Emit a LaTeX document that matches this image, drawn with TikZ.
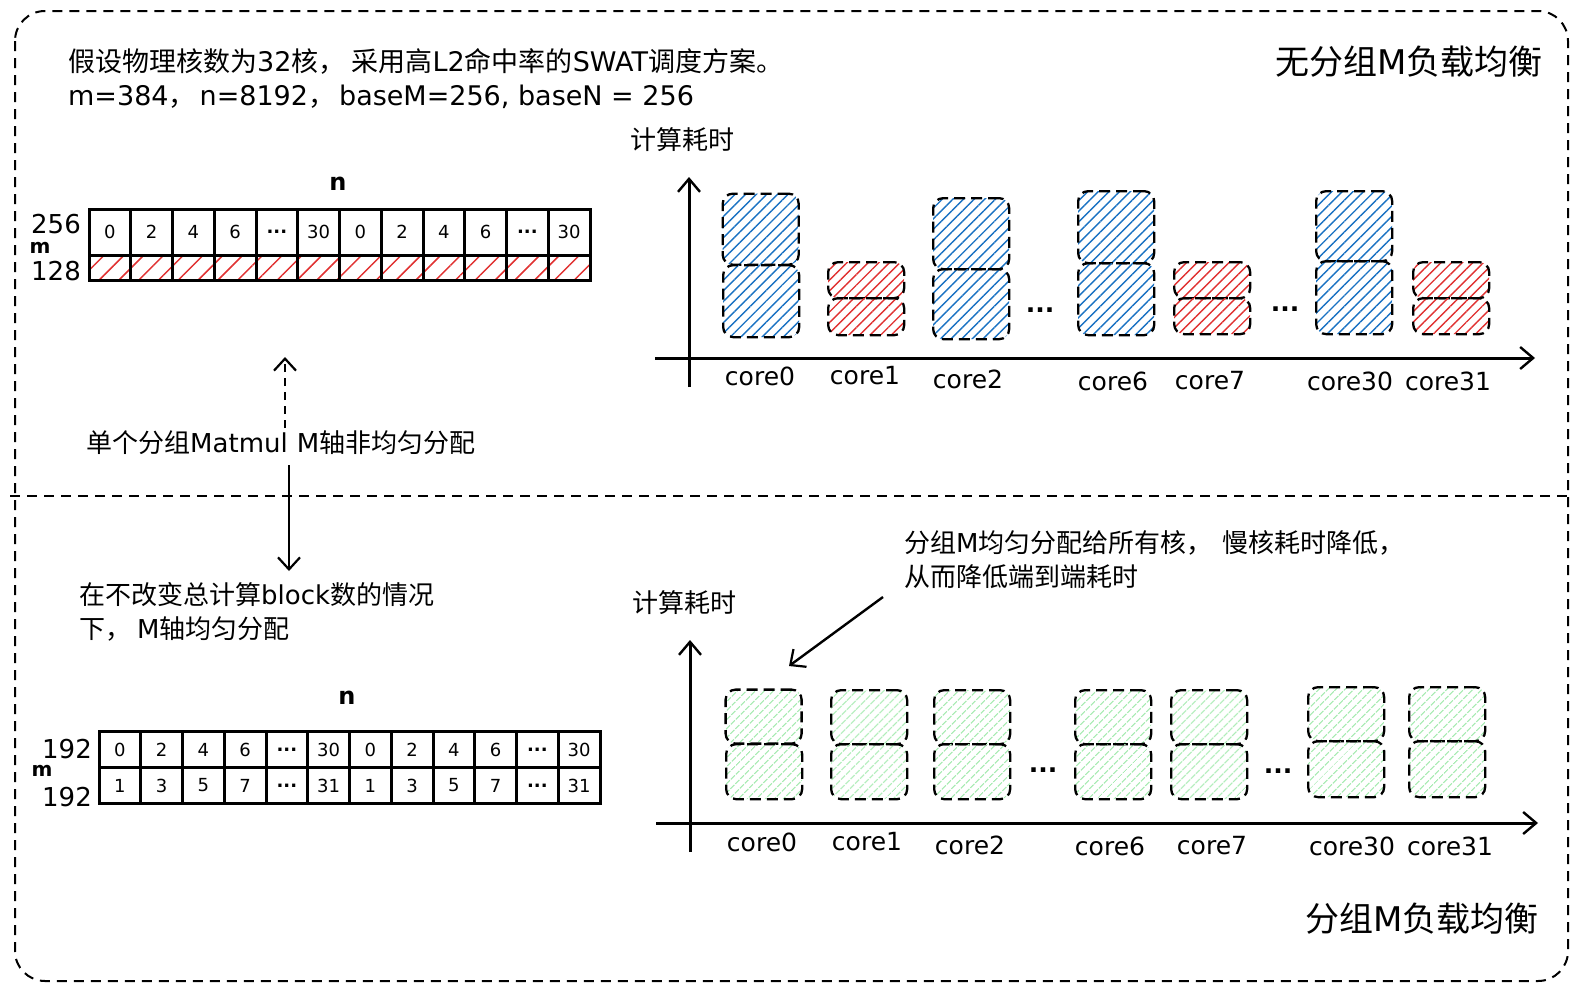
\documentclass[tikz,border=0pt]{standalone}
\usepackage{fontspec}
\setmainfont{Noto Sans CJK SC}
\newfontfamily\lat{DejaVu Sans}
\usetikzlibrary{patterns.meta,arrows.meta}
\definecolor{hblue}{HTML}{1971C2}
\definecolor{hred}{HTML}{E03131}
\definecolor{hgreen}{HTML}{A9EBB3}
\newcommand{\ellip}{\textbf{...}}
\begin{document}
\begin{tikzpicture}[x=1pt,y=-1pt,
  txt/.style={font=\fontsize{26}{34}\selectfont, inner sep=0, align=left},
  ttl/.style={font=\fontsize{34}{38}\selectfont, inner sep=0},
  num/.style={font=\lat\fontsize{26}{30}\selectfont, inner sep=0},
  celltxt/.style={font=\lat\fontsize{18}{22}\selectfont},
  cell/.style={draw, line width=3pt, minimum width=41.75pt, inner sep=0, celltxt},
  redcell/.style={cell, pattern={Lines[angle=45,distance=14pt,line width=1.5pt]}, pattern color=hred},
  lbl/.style={font=\lat\fontsize{25}{30}\selectfont, inner sep=0},
  frame/.style={draw, line width=2pt, dash pattern=on 10pt off 7pt, rounded corners=30pt},
  axis/.style={draw, line width=3pt, -{Straight Barb[length=13pt,width=22pt,line width=2.4pt]}},
  barbox/.style={draw, line width=2.3pt, dash pattern=on 11pt off 6pt, rounded corners=10pt,
     inner sep=0, anchor=north west, minimum width=76pt},
  bluebar/.style={barbox, pattern={Lines[angle=45,distance=7.5pt,line width=1.4pt]}, pattern color=hblue},
  redbar/.style={barbox, pattern={Lines[angle=45,distance=7.5pt,line width=1.4pt]}, pattern color=hred},
  greenbar/.style={barbox, pattern={Lines[angle=45,distance=6.5pt,line width=1.2pt]}, pattern color=hgreen},
  arr/.style={line width=2.4pt, -{Straight Barb[length=12pt,width=22pt,line width=2.2pt]}}
]
\useasboundingbox (0,0) rectangle (1579,993);

% frame and divider
\draw[frame] (15,11) rectangle (1568,981);
\coordinate (divL) at (10,496);
\coordinate (divR) at (1568,496);
\draw[line width=2pt, dash pattern=on 10pt off 7pt] (divL) -- (divR);

% header texts
\node[txt, font=\fontsize{27}{34}\selectfont, anchor=west] (intro1) at (68,61) {假设物理核数为{\lat 32}核，\hspace{6pt}采用高{\lat L2}命中率的{\lat SWAT}调度方案。};
\node[txt, font=\fontsize{27}{34}\selectfont, anchor=west] (intro2) at (68,97) {{\lat m=384}，\hspace{4pt}{\lat n=8192}，\hspace{4pt}{\lat baseM=256, baseN = 256}};
\node[ttl, anchor=east] (title1) at (1543,62) {无分组{\lat M}负载均衡};
\node[ttl, anchor=east] (title2) at (1539,919) {分组{\lat M}负载均衡};

% top grid
\node[num, font=\lat\bfseries\fontsize{24}{28}\selectfont] (tn) at (338,184) {n};
\node[num] (t256) at (56,224) {256};
\node[num, font=\lat\bfseries\fontsize{20}{22}\selectfont, text height=10pt, text depth=0pt] (tm) at (40,248) {m};
\node[num] (t128) at (56,271) {128};
\foreach \t [count=\i from 0] in {0,2,4,6,\ellip,30,0,2,4,6,\ellip,30}{
  \node[cell, minimum height=46pt] (ta\i) at ({89+41.75*(\i+0.5)},232) {\t};
  \node[redcell, minimum height=25pt] (tb\i) at ({89+41.75*(\i+0.5)},267.5) {};
}

% bottom grid
\node[num, font=\lat\bfseries\fontsize{24}{28}\selectfont] (bn) at (347,698) {n};
\node[num] (b192a) at (67,749) {192};
\node[num, font=\lat\bfseries\fontsize{20}{22}\selectfont, text height=10pt, text depth=0pt] (bm) at (42,771) {m};
\node[num] (b192b) at (67,797) {192};
\foreach \t [count=\i from 0] in {0,2,4,6,\ellip,30,0,2,4,6,\ellip,30}{
  \node[cell, minimum height=36pt] (ba\i) at ({99+41.75*(\i+0.5)},749.5) {\t};
}
\foreach \t [count=\i from 0] in {1,3,5,7,\ellip,31,1,3,5,7,\ellip,31}{
  \node[cell, minimum height=36pt] (bb\i) at ({99+41.75*(\i+0.5)},785.5) {\t};
}

% middle texts and arrows
\node[txt, anchor=west] (mid) at (86,443) {单个分组{\lat Matmul}\hspace{9pt}{\lat M}轴非均匀分配};
\coordinate (upend) at (285,357);
\coordinate (upstart) at (285,428);
\draw[arr, line width=2pt, dash pattern=on 8pt off 6pt] (upstart) -- (upend);
\node[txt, anchor=north west] (bal) at (79,582) {在不改变总计算{\lat block}数的情况\\下，\hspace{6pt}{\lat M}轴均匀分配};
\coordinate (dnstart) at (289,465);
\coordinate (dnend) at (289,571);
\draw[arr] (dnstart) -- (dnend);

% top chart
\coordinate (ty0) at (689,387);
\coordinate (ty1) at (689,177);
\coordinate (tx0) at (655,358);
\coordinate (tx1) at (1535,358);
\draw[axis] (ty0) -- (ty1);
\draw[axis] (tx0) -- (tx1);
\node[txt] (tyl) at (682,140) {计算耗时};

\node[bluebar, minimum height=71pt] (t0u) at (722,193) {};
\node[bluebar, minimum height=72pt] (t0l) at (722,264) {};
\node[redbar, minimum height=36pt] (t1u) at (827,261) {};
\node[redbar, minimum height=37pt] (t1l) at (827,297) {};
\node[bluebar, minimum height=71pt] (t2u) at (932,197) {};
\node[bluebar, minimum height=70pt] (t2l) at (932,268) {};
\node[bluebar, minimum height=72pt] (t6u) at (1077,190) {};
\node[bluebar, minimum height=72pt] (t6l) at (1077,262) {};
\node[redbar, minimum height=36pt] (t7u) at (1173,261) {};
\node[redbar, minimum height=36pt] (t7l) at (1173,297) {};
\node[bluebar, minimum height=70pt] (t30u) at (1315,190) {};
\node[bluebar, minimum height=73pt] (t30l) at (1315,260) {};
\node[redbar, minimum height=36pt] (t31u) at (1412,261) {};
\node[redbar, minimum height=36pt] (t31l) at (1412,297) {};
\node[lbl] (td1) at (1040,310) {\ellip};
\node[lbl] (td2) at (1285,309) {\ellip};

\node[lbl] (tc0) at (760,376) {core0};
\node[lbl] (tc1) at (865,376) {core1};
\node[lbl] (tc2) at (968,379) {core2};
\node[lbl] (tc6) at (1113,381) {core6};
\node[lbl] (tc7) at (1210,381) {core7};
\node[lbl] (tc30) at (1350,381) {core30};
\node[lbl] (tc31) at (1448,381) {core31};

% bottom chart
\coordinate (by0) at (690,852);
\coordinate (by1) at (690,640);
\coordinate (bx0) at (656,823);
\coordinate (bx1) at (1538,823);
\draw[axis] (by0) -- (by1);
\draw[axis] (bx0) -- (bx1);
\node[txt] (byl) at (684,603) {计算耗时};

\node[greenbar, minimum height=54pt] (b0u) at (725,689) {};
\node[greenbar, minimum height=55pt] (b0l) at (725,743) {};
\node[greenbar, minimum height=54pt] (b1u) at (830,689) {};
\node[greenbar, minimum height=55pt] (b1l) at (830,743) {};
\node[greenbar, minimum height=54pt] (b2u) at (933,689) {};
\node[greenbar, minimum height=55pt] (b2l) at (933,743) {};
\node[greenbar, minimum height=54pt] (b6u) at (1074,689) {};
\node[greenbar, minimum height=55pt] (b6l) at (1074,743) {};
\node[greenbar, minimum height=54pt] (b7u) at (1170,689) {};
\node[greenbar, minimum height=55pt] (b7l) at (1170,743) {};
\node[greenbar, minimum height=54pt] (b30u) at (1307,686) {};
\node[greenbar, minimum height=56pt] (b30l) at (1307,740) {};
\node[greenbar, minimum height=54pt] (b31u) at (1408,686) {};
\node[greenbar, minimum height=56pt] (b31l) at (1408,740) {};
\node[lbl] (bd1) at (1043,770) {\ellip};
\node[lbl] (bd2) at (1278,771) {\ellip};

\node[lbl] (bc0) at (762,842) {core0};
\node[lbl] (bc1) at (867,842) {core1};
\node[lbl] (bc2) at (970,845) {core2};
\node[lbl] (bc6) at (1110,846) {core6};
\node[lbl] (bc7) at (1212,846) {core7};
\node[lbl] (bc30) at (1352,846) {core30};
\node[lbl] (bc31) at (1450,846) {core31};

% annotation
\node[txt, anchor=north west] (note) at (904,530) {分组{\lat M}均匀分配给所有核，\hspace{10pt}慢核耗时降低，\\从而降低端到端耗时};
\coordinate (notearrow) at (883,597);
\coordinate (notetip) at (789,666);
\draw[arr] (notearrow) -- (notetip);
\end{tikzpicture}
\end{document}
